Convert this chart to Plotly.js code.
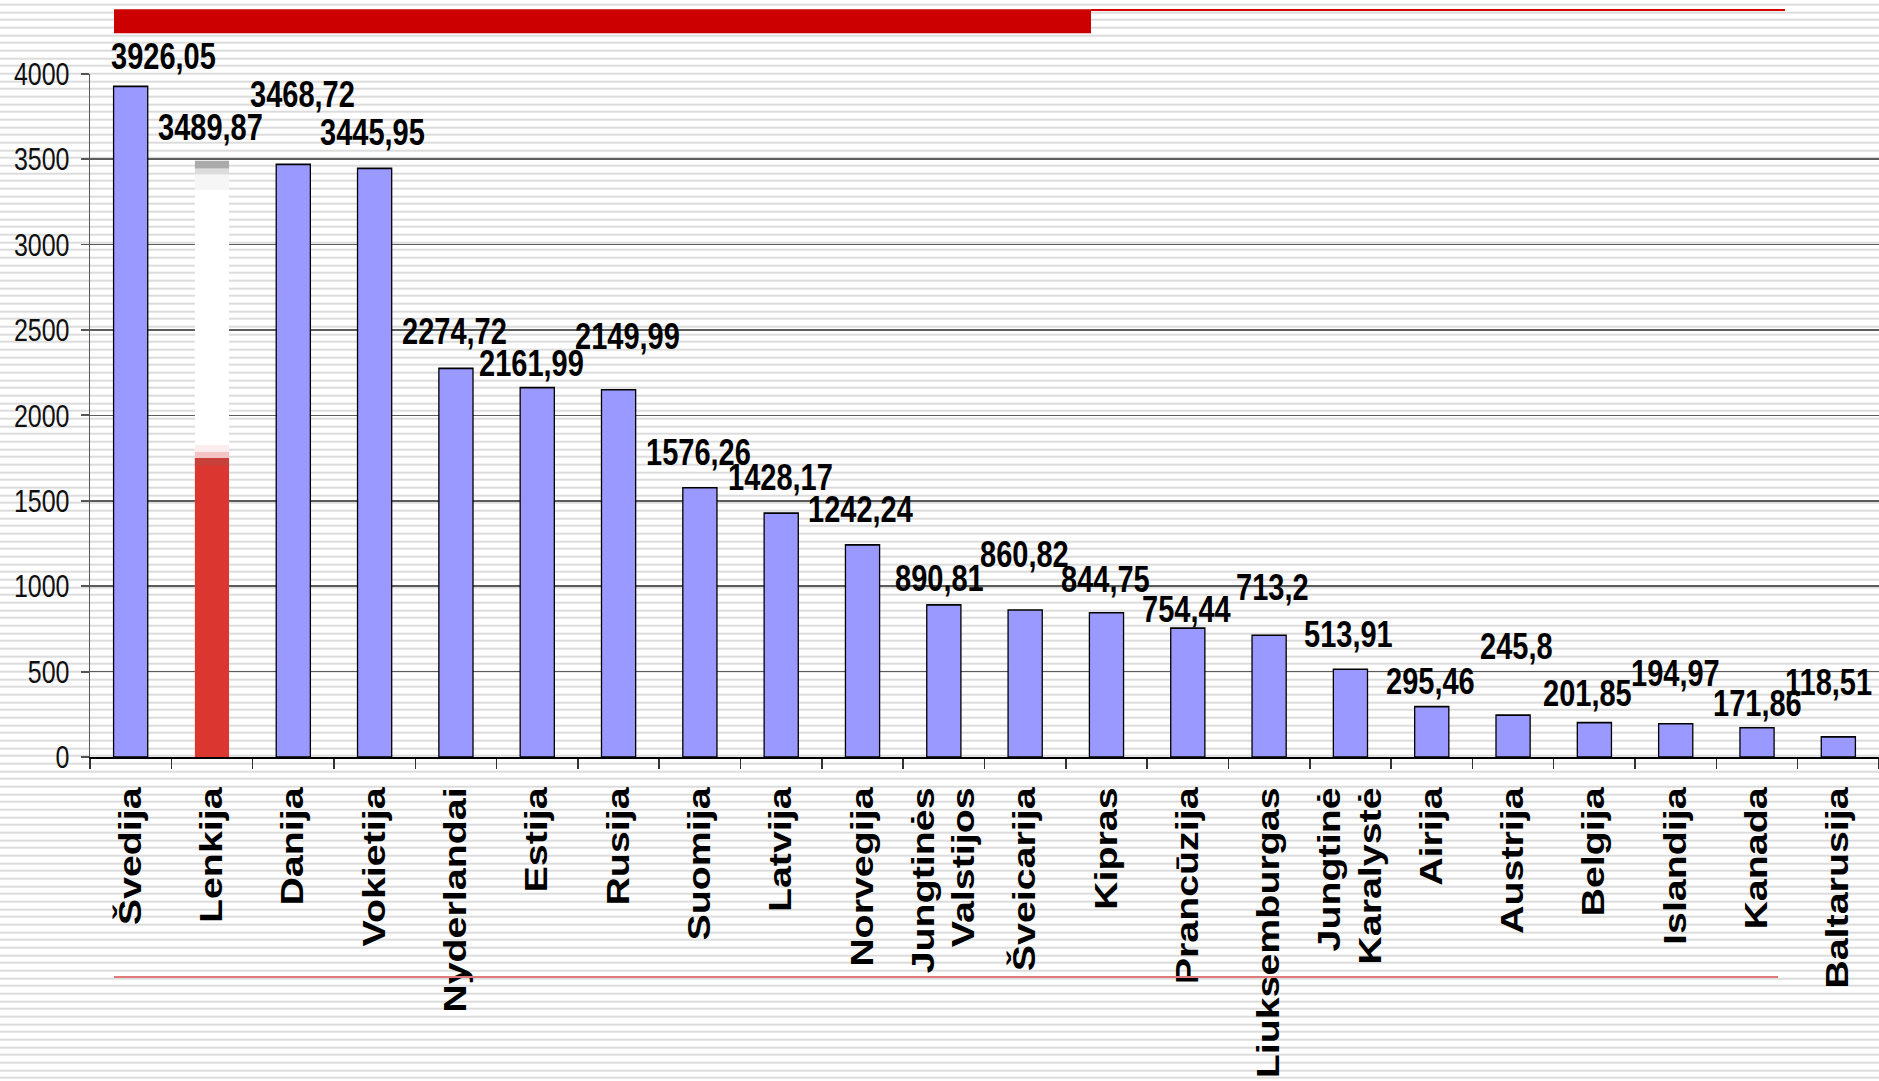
<!DOCTYPE html>
<html><head><meta charset="utf-8">
<script src="https://cdn.plot.ly/plotly-3.0.1.min.js"></script>
<style>
html,body{margin:0;padding:0;width:1879px;height:1081px;overflow:hidden;background-color:#fff;}
body{background-image:repeating-linear-gradient(to bottom,#dcdcdc 0px,#dcdcdc 2px,rgba(255,255,255,0) 2px,rgba(255,255,255,0) 7.667px);background-position:0 3.7px;}
#chart{position:absolute;left:0;top:0;width:1879px;height:851px;transform:scaleY(1.27027);transform-origin:0 0;}
</style></head><body><div id="chart"></div>
<script>
// ---- data ----
const countries = ['Švedija','Lenkija','Danija','Vokietija','Nyderlandai','Estija','Rusija','Suomija','Latvija','Norvegija','Jungtinės Valstijos','Šveicarija','Kipras','Prancūzija','Liuksemburgas','Jungtinė Karalystė','Airija','Austrija','Belgija','Islandija','Kanada','Baltarusija'];
const tickLabels = ['Švedija','Lenkija','Danija','Vokietija','Nyderlandai','Estija','Rusija','Suomija','Latvija','Norvegija','Jungtinės<br>Valstijos','Šveicarija','Kipras','Prancūzija','Liuksemburgas','Jungtinė<br>Karalystė','Airija','Austrija','Belgija','Islandija','Kanada','Baltarusija'];
const values = [3926.05,3489.87,3468.72,3445.95,2274.72,2161.99,2149.99,1576.26,1428.17,1242.24,890.81,860.82,844.75,754.44,713.2,513.91,295.46,245.8,201.85,194.97,171.86,118.51];
const highlighted = 'Lenkija';
const highlightFillLevel = 1750;   // level of the red fill inside the highlighted bar
const yTicks = [0,500,1000,1500,2000,2500,3000,3500,4000];

// ---- layout helpers (styling only) ----
const S = 1081/851;            // vertical stretch of the original picture
const L = 90, T = 58, B = 255, R = 0, W = 1879, H = 851;
const PW = W - L - R, PH = H - T - B;
// label nudges in real pixels [dx, dy] relative to bar centre / bar top
const labelNudge = [[33,-31],[-1,-34],[9,-70],[-2,-36],[-1,-37],[-6,-25],[9,-53],[-1,-35],[-1,-36],[-2,-36],[-4,-27],[-1,-56],[-1,-33],[-1,-19],[3,-48],[-2,-35],[-1,-26],[3,-68],[-7,-29],[0,-50],[0,-24],[-10,-55]];
const px = x => (x - L) / PW;
const py = y => 1 - (y / S - T) / PH;

const FONT = '"Liberation Sans", Arial, sans-serif';
const hi = countries.indexOf(highlighted);
const hv = values[hi];

const traces = [
  {type:'bar', x:countries, y:values,
   marker:{color:countries.map(c => c===highlighted ? '#ffffff' : '#9999FF'),
           line:{color:'#000', width:countries.map(c => c===highlighted ? 0 : 1.3)}},
   hoverinfo:'skip'},
  // highlighted bar detail: red fill, fade bands and grey top cap
  {type:'bar', x:[highlighted], y:[highlightFillLevel], marker:{color:'#DC3631', line:{width:0}}},
  {type:'bar', x:[highlighted], base:[highlightFillLevel-45], y:[45], marker:{color:'#C8403A', line:{width:0}}},
  {type:'bar', x:[highlighted], base:[highlightFillLevel], y:[35], marker:{color:'#F4C4C4', line:{width:0}}},
  {type:'bar', x:[highlighted], base:[highlightFillLevel+35], y:[40], marker:{color:'#FBEDED', line:{width:0}}},
  {type:'bar', x:[highlighted], base:[hv-170], y:[90], marker:{color:'#F6F6F6', line:{width:0}}},
  {type:'bar', x:[highlighted], base:[hv-80], y:[35], marker:{color:'#DCDCDC', line:{width:0}}},
  {type:'bar', x:[highlighted], base:[hv-45], y:[45], marker:{color:'#ABABAB', line:{width:0}}}
];

const annotations = values.map((v,i) => ({
  x: countries[i], y: v, xref:'x', yref:'y',
  text: String(v).replace('.', ','),
  showarrow:false, xanchor:'center', yanchor:'middle',
  xshift: labelNudge[i][0], yshift: -labelNudge[i][1] / S,
  font:{family:FONT, size:29, color:'#000', weight:'bold'}
}));

const shapes = [
  {type:'rect', xref:'paper', yref:'paper', x0:px(114), x1:px(1091), y0:py(33.3), y1:py(9.3), fillcolor:'#CC0000', line:{width:0}, layer:'above'},
  {type:'rect', xref:'paper', yref:'paper', x0:px(1091), x1:px(1785), y0:py(11), y1:py(9), fillcolor:'#D40000', line:{width:0}, layer:'above'},
  {type:'rect', xref:'paper', yref:'paper', x0:px(114), x1:px(1778), y0:py(978), y1:py(976), fillcolor:'#E07A7A', line:{width:0}, layer:'above'}
];

const layout = {
  width:W, height:H, autosize:false,
  margin:{l:L, r:R, t:T, b:B, pad:0},
  paper_bgcolor:'rgba(0,0,0,0)', plot_bgcolor:'rgba(0,0,0,0)',
  barmode:'overlay', bargap:0.58, showlegend:false,
  font:{family:FONT, color:'#000'},
  xaxis:{type:'category', range:[-0.5, countries.length-0.5], automargin:false,
         tickmode:'array', tickvals:countries, ticktext:tickLabels,
         tickson:'boundaries', ticks:'outside', ticklen:8, tickwidth:1.5, tickcolor:'#333',
         tickangle:-90, tickfont:{family:FONT, size:31, color:'#000', weight:'bold'},
         showline:true, linecolor:'#000', linewidth:1.5, showgrid:false, zeroline:false,
         ticklabelstandoff:10},
  yaxis:{range:[0,4000], tickmode:'array', tickvals:yTicks, ticktext:yTicks.map(String), automargin:false,
         ticks:'outside', ticklen:8, tickwidth:1.5, tickcolor:'#555',
         tickfont:{family:FONT, size:25, color:'#111'},
         showline:true, linecolor:'#555', linewidth:1.5,
         showgrid:true, gridcolor:'#5c5c5c', gridwidth:1.2, zeroline:false, ticklabelstandoff:6},
  annotations, shapes
};

Plotly.newPlot('chart', traces, layout, {displayModeBar:false, staticPlot:true});
</script></body></html>
